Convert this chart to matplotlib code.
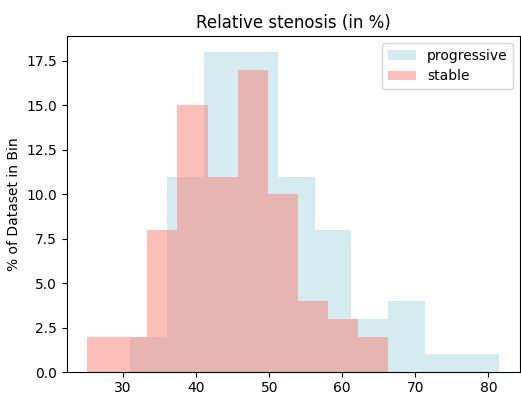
import matplotlib
matplotlib.use("Agg")
import matplotlib.pyplot as plt
import numpy as np

# bin edges and heights (% of dataset in bin)
prog_edges = np.linspace(30.9, 81.5, 11)
prog_pct = [2, 11, 18, 18, 11, 8, 3, 4, 1, 1]

stable_edges = np.linspace(25.1, 66.25, 11)
stable_pct = [2, 2, 8, 15, 11, 17, 10, 4, 3, 2]

prog_mid = (prog_edges[:-1] + prog_edges[1:]) / 2
stable_mid = (stable_edges[:-1] + stable_edges[1:]) / 2

fig = plt.figure(figsize=(5.21, 3.96), dpi=100)
ax = fig.add_axes([0.128, 0.06, 0.87, 0.849])

ax.hist(prog_mid, bins=prog_edges, weights=prog_pct, color='lightblue',
        alpha=0.5, label='progressive')
ax.hist(stable_mid, bins=stable_edges, weights=stable_pct, color='salmon',
        alpha=0.5, label='stable')

ax.set_title('Relative stenosis (in %)')
ax.set_ylabel('% of Dataset in Bin')
ax.tick_params(axis='x', pad=2.5)
ax.legend(loc='upper right')

fig.savefig('out.png', dpi=100)
